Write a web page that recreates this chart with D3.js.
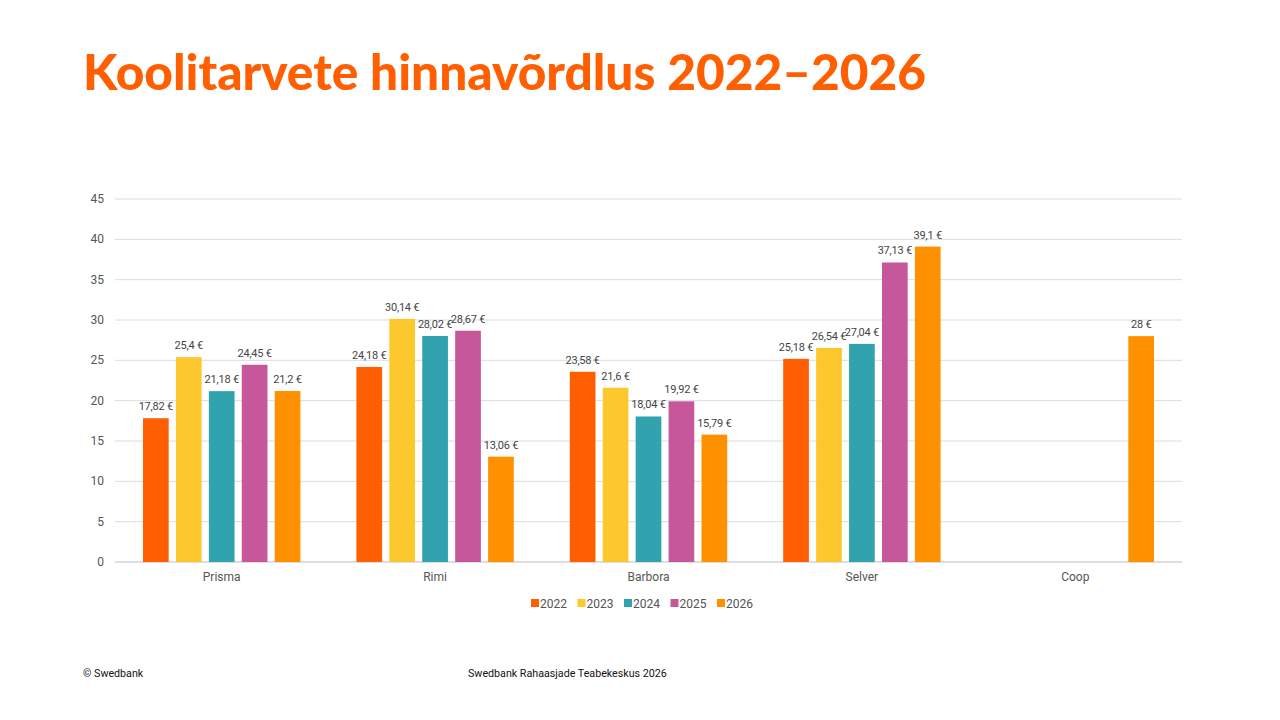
<!DOCTYPE html>
<html>
<head>
<meta charset="utf-8">
<script src="https://cdn.jsdelivr.net/npm/d3@7"></script>
<style>
  body { margin: 0; background: #fff; }
  text { font-family: Roboto, sans-serif; }
</style>
</head>
<body>
<div id="chart"></div>
<script>
let stores = ["Prisma", "Rimi", "Barbora", "Selver", "Coop"];
let years = ["2022", "2023", "2024", "2025", "2026"];
let colors = ["#ff5f00", "#fdc72e", "#31a3ae", "#c5579a", "#ff9100"];
// one array per year, order as in stores; null = no price
let v2022 = [17.82, 24.18, 23.58, 25.18, null];
let v2023 = [25.4, 30.14, 21.6, 26.54, null];
let v2024 = [21.18, 28.02, 18.04, 27.04, null];
let v2025 = [24.45, 28.67, 19.92, 37.13, null];
let v2026 = [21.2, 13.06, 15.79, 39.1, 28];
let yTicks = [0, 5, 10, 15, 20, 25, 30, 35, 40, 45];

let series = [v2022, v2023, v2024, v2025, v2026];

let svg = d3.select("#chart").append("svg")
  .attr("width", 1280).attr("height", 720);

svg.append("text")
  .attr("x", 83).attr("y", 90)
  .style("font-family", "Lato, sans-serif")
  .style("font-weight", 900)
  .style("font-size", "49.6px")
  .style("fill", "#ff5f00")
  .text("Koolitarvete hinnavõrdlus 2022–2026");

let plotLeft = 115, plotRight = 1182, plotTop = 199, plotBottom = 562;

let x = d3.scaleBand().domain(stores).range([plotLeft, plotRight]).paddingInner(0).paddingOuter(0);
let xInner = d3.scaleBand().domain(years).range([28, x.bandwidth() - 28]).paddingInner(0.22);
let y = d3.scaleLinear().domain([0, 45]).range([plotBottom, plotTop]);

// grid
svg.append("g").selectAll("line").data(yTicks).enter().append("line")
  .attr("x1", plotLeft).attr("x2", plotRight)
  .attr("y1", d => y(d)).attr("y2", d => y(d))
  .style("stroke", d => d === 0 ? "#bdbdbd" : "#dcdcdc")
  .style("stroke-width", 1);

svg.append("g").selectAll("text").data(yTicks).enter().append("text")
  .attr("x", 104).attr("y", d => y(d) + 4)
  .attr("text-anchor", "end")
  .style("font-size", "12px").style("fill", "#555")
  .text(d => d);

svg.append("g").selectAll("text").data(stores).enter().append("text")
  .attr("x", d => x(d) + x.bandwidth() / 2).attr("y", 581)
  .attr("text-anchor", "middle")
  .style("font-size", "12px").style("fill", "#555")
  .text(d => d);

let bars = [];
stores.forEach(function (s, i) {
  years.forEach(function (yr, j) {
    let v = series[j][i];
    if (v !== null) bars.push({ store: s, year: yr, value: v, color: colors[j] });
  });
});

let g = svg.append("g");
g.selectAll("rect").data(bars).enter().append("rect")
  .attr("x", d => x(d.store) + xInner(d.year))
  .attr("width", xInner.bandwidth())
  .attr("y", d => y(d.value))
  .attr("height", d => plotBottom - y(d.value))
  .style("fill", d => d.color);

g.selectAll("text").data(bars).enter().append("text")
  .attr("x", d => x(d.store) + xInner(d.year) + xInner.bandwidth() / 2)
  .attr("y", d => y(d.value) - 8)
  .attr("text-anchor", "middle")
  .style("font-size", "11px").style("fill", "#444")
  .style("letter-spacing", "-0.2px")
  .text(d => String(d.value).replace(".", ",") + " €");

// legend
let legend = svg.append("g");
let lx = 531;
years.forEach(function (yr, j) {
  let item = legend.append("g").attr("transform", "translate(" + lx + ",0)");
  item.append("rect").attr("x", 0).attr("y", 599).attr("width", 8).attr("height", 8)
    .style("fill", colors[j]);
  item.append("text").attr("x", 9).attr("y", 608)
    .style("font-size", "12px").style("fill", "#555").text(yr);
  lx += 46.5;
});

svg.append("text").attr("x", 83).attr("y", 677)
  .style("font-size", "10.7px").style("fill", "#111").text("© Swedbank");
svg.append("text").attr("x", 468).attr("y", 677)
  .style("font-size", "10.7px").style("fill", "#111").text("Swedbank Rahaasjade Teabekeskus 2026");
</script>
</body>
</html>
